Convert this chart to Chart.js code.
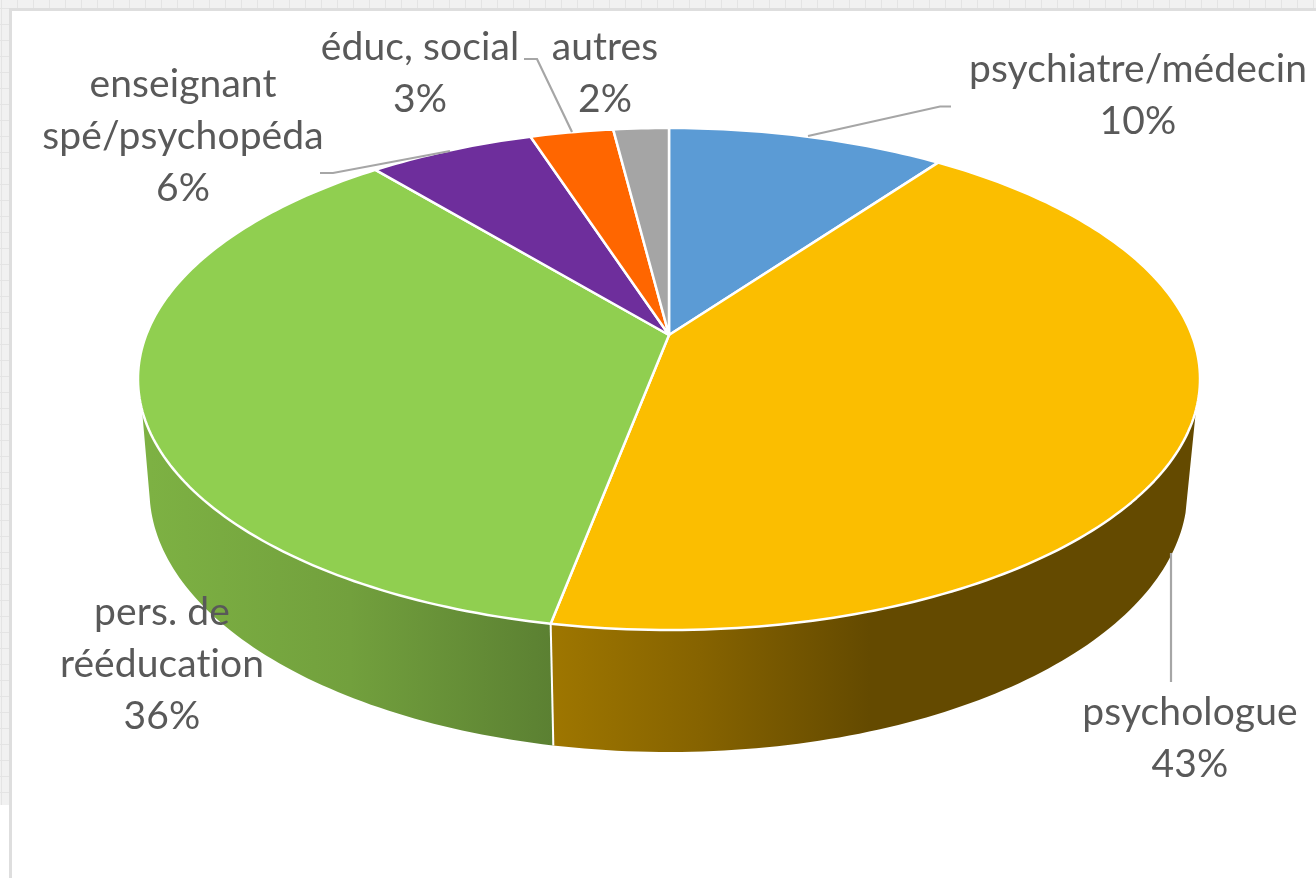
<!DOCTYPE html>
<html lang="fr">
<head>
<meta charset="utf-8">
<title>Répartition des professions</title>
<script src="https://cdn.jsdelivr.net/npm/chart.js@4"></script>
<style>
html,body{margin:0;padding:0;background:#fff;width:1316px;height:878px;overflow:hidden}
.strip{position:absolute;background-color:#f1f1f1;
 background-image:linear-gradient(to right,#e4e4e4 1.5px,transparent 1.5px),linear-gradient(to bottom,#e4e4e4 1.5px,transparent 1.5px);
 background-size:16px 16px;background-position:1px 8px}
#top{left:0;top:0;width:1316px;height:8px}
#left{left:0;top:0;width:9px;height:805px}
#hline{position:absolute;left:9px;top:8px;width:1307px;height:2.5px;background:#dedede}
#vline{position:absolute;left:9px;top:8px;width:3px;height:870px;background:#dedede}
canvas{position:absolute;left:0;top:0;filter:blur(0.45px)}
</style>
</head>
<body>
<div class="strip" id="top"></div>
<div class="strip" id="left"></div>
<div id="hline"></div>
<div id="vline"></div>
<canvas id="c" width="1316" height="878"></canvas>
<script>
// ---- data ----
const categories = ['psychiatre/médecin','psychologue','pers. de rééducation','enseignant spé/psychopéda','éduc, social','autres'];
const values = [10,43,36,6,3,2];
const sliceColors = ['#5B9BD5','#FBBE00','#90CF50','#6E2E9C','#FF6600','#A5A5A5'];
const labelLines = [
  ['psychiatre/médecin'],
  ['psychologue'],
  ['pers. de','rééducation'],
  ['enseignant','spé/psychopéda'],
  ['éduc, social'],
  ['autres']
];

// ---- layout ----
const K = 0.1753;
const topPlane = {cx:669, y0:335, A:522.8, B:243.3};
const botPlane = {cx:668.5, y0:444, A:511, B:254};
const wallTop = [107,253], wallBot = [105,258];
const labelPos = [
  {x:1138, y:82},{x:1190, y:725},{x:162, y:625},{x:183, y:97},{x:420, y:60},{x:605, y:60}
];
const lineH = 52;
const leaders = [
  [[808,136],[940,106.5],[951,106.5]],
  [[1171,553],[1171,682]],
  null,
  [[320,173],[333,173],[450,151]],
  [[524,59],[537,59],[572,132]],
  null
];
const wallGrad = {
  1:[[553,'#9E7600'],[700,'#866300'],[870,'#644A00'],[1200,'#644A00']],
  2:[[150,'#7DB143'],[350,'#72A03D'],[553,'#5B8032']]
};

function project(p, deg){
  const t = deg*Math.PI/180, u = Math.sin(t), v = -Math.cos(t), d = 1-K*v;
  return [p.cx + p.A*u/d, p.y0 + p.B*v/d];
}
function trace(ctx, p, a, b, first){
  const n = Math.max(2, Math.ceil(Math.abs(b-a)));
  for(let i=0;i<=n;i++){
    const q = project(p, a+(b-a)*i/n);
    if(i===0 && first) ctx.moveTo(q[0],q[1]); else ctx.lineTo(q[0],q[1]);
  }
}
const deg = r => (r+Math.PI/2)*180/Math.PI;

const pie3d = {
  id:'pie3d',
  beforeDatasetsDraw(chart){
    const ctx = chart.ctx, arcs = chart.getDatasetMeta(0).data;
    ctx.save();
    // walls
    arcs.forEach((el,i)=>{
      const s = deg(el.startAngle), e = deg(el.endAngle);
      const a1 = Math.max(s,wallTop[0]), b1 = Math.min(e,wallTop[1]);
      const a2 = Math.max(s,wallBot[0]), b2 = Math.min(e,wallBot[1]);
      if(b2<=a2) return;
      const g = ctx.createLinearGradient(0,0,1316,0);
      (wallGrad[i]||[[0,el.options.backgroundColor],[1316,el.options.backgroundColor]])
        .forEach(st=>g.addColorStop(st[0]/1316,st[1]));
      ctx.beginPath();
      trace(ctx,topPlane,a1,b1,true);
      trace(ctx,botPlane,b2,a2,false);
      ctx.closePath();
      ctx.fillStyle = g; ctx.fill();
    });
    // seams between walls
    arcs.forEach(el=>{
      const s = deg(el.startAngle);
      if(s>wallBot[0] && s<wallBot[1]){
        const p = project(topPlane,s), q = project(botPlane,s);
        ctx.beginPath(); ctx.moveTo(p[0],p[1]); ctx.lineTo(q[0]+0.5,q[1]);
        ctx.strokeStyle='#fff'; ctx.lineWidth=2; ctx.stroke();
      }
    });
    // top faces
    arcs.forEach(el=>{
      ctx.beginPath();
      ctx.moveTo(topPlane.cx,topPlane.y0);
      trace(ctx,topPlane,deg(el.startAngle),deg(el.endAngle),false);
      ctx.closePath();
      ctx.fillStyle = el.options.backgroundColor; ctx.fill();
      ctx.strokeStyle = el.options.borderColor; ctx.lineWidth = el.options.borderWidth;
      ctx.lineJoin='round'; ctx.stroke();
    });
    // leaders
    ctx.strokeStyle='#A6A6A6'; ctx.lineWidth=2.2; ctx.lineJoin='miter';
    leaders.forEach(l=>{
      if(!l) return;
      ctx.beginPath();
      l.forEach((pt,j)=> j?ctx.lineTo(pt[0],pt[1]):ctx.moveTo(pt[0],pt[1]));
      ctx.stroke();
    });
    // labels
    ctx.fillStyle='#595959';
    ctx.font='39px Lato';
    ctx.letterSpacing='0.1px';
    ctx.textAlign='center';
    ctx.textBaseline='alphabetic';
    const total = values.reduce((a,b)=>a+b,0);
    labelLines.forEach((lines,i)=>{
      const pos = labelPos[i];
      const all = lines.concat([Math.round(values[i]/total*100)+'%']);
      all.forEach((t,j)=>ctx.fillText(t,pos.x,pos.y+j*lineH));
    });
    ctx.restore();
    return false;
  }
};

new Chart(document.getElementById('c'),{
  type:'pie',
  data:{labels:categories,datasets:[{data:values,backgroundColor:sliceColors,borderColor:'#ffffff',borderWidth:2.5}]},
  options:{
    responsive:false,animation:false,
    events:[],
    plugins:{legend:{display:false},tooltip:{enabled:false}}
  },
  plugins:[pie3d]
});
</script>
</body>
</html>
